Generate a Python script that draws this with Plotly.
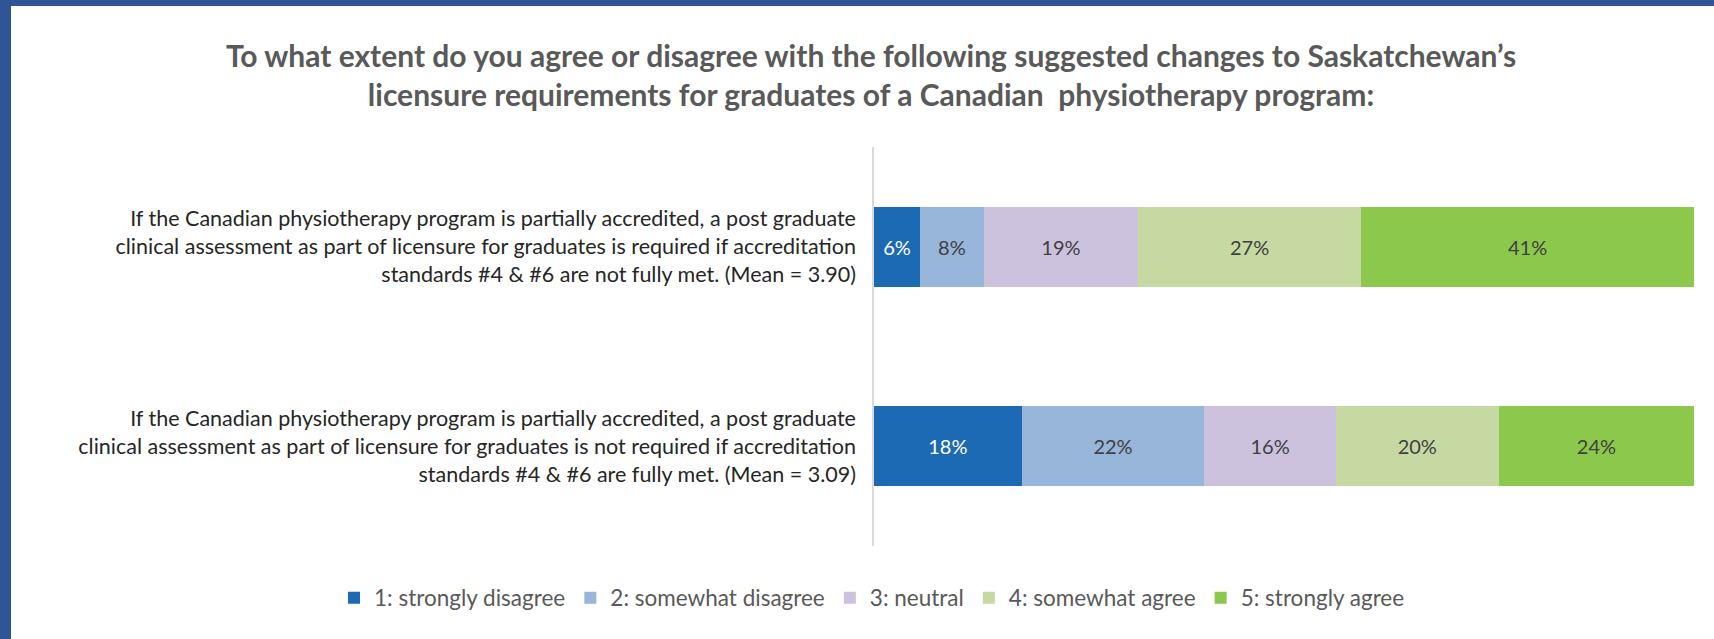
import plotly.graph_objects as go

# Survey data
statements = [
    "If the Canadian physiotherapy program is partially accredited, a post graduate<br>"
    "clinical assessment as part of licensure for graduates is required if accreditation<br>"
    "standards #4 & #6 are not fully met. (Mean = 3.90)",
    "If the Canadian physiotherapy program is partially accredited, a post graduate<br>"
    "clinical assessment as part of licensure for graduates is not required if accreditation<br>"
    "standards #4 & #6 are fully met. (Mean = 3.09)",
]
responses = [
    "1: strongly disagree",
    "2: somewhat disagree",
    "3: neutral",
    "4: somewhat agree",
    "5: strongly agree",
]
strongly_disagree = [5.6, 18.0]
somewhat_disagree = [7.8, 22.3]
neutral = [18.8, 16.0]
somewhat_agree = [27.2, 19.9]
strongly_agree = [40.6, 23.8]

series = [strongly_disagree, somewhat_disagree, neutral, somewhat_agree, strongly_agree]
COLORS = ["#1C69B4", "#98B5DA", "#CDC2DE", "#C6D9A2", "#8CC84B"]
TEXT_COLORS = ["#FFFFFF", "#404040", "#404040", "#404040", "#404040"]
GRAY_TEXT = "#595959"
BORDER_BLUE = "#2F5597"

W, H = 1714, 639
L, R, T, B = 874, 20, 147, 93

fig = go.Figure()
for name, vals, color, tcolor in zip(responses, series, COLORS, TEXT_COLORS):
    fig.add_trace(
        go.Bar(
            y=statements,
            x=vals,
            name=name,
            orientation="h",
            marker=dict(color=color, line=dict(width=0)),
            text=[f"{v:.0f}%" for v in vals],
            textposition="inside",
            insidetextanchor="middle",
            textangle=0,
            constraintext="none",
            textfont=dict(color=tcolor, size=20, family="Lato"),
            hovertemplate="%{x:.0f}%<extra>" + name + "</extra>",
        )
    )


def px_x(p):
    return (p - L) / (W - L - R)


def px_y(p):
    return (H - B - p) / (H - T - B)


fig.update_layout(
    barmode="stack",
    bargap=0.6,
    width=W,
    height=H,
    paper_bgcolor=BORDER_BLUE,
    plot_bgcolor="white",
    font=dict(family="Lato", color=GRAY_TEXT),
    margin=dict(l=L, r=R, t=T, b=B, pad=0),
    title=dict(
        text="To what extent do you agree or disagree with the following suggested changes to Saskatchewan\u2019s<br>"
        "licensure requirements for graduates of a Canadian  physiotherapy program:",
        x=871 / W,
        xanchor="center",
        y=1 - 67 / H,
        yanchor="top",
        font=dict(family="Lato", size=30, color=GRAY_TEXT, weight="bold"),
    ),
    xaxis=dict(range=[0, 100], visible=False, fixedrange=True),
    yaxis=dict(
        autorange="reversed",
        showline=True,
        linecolor="#D9D9D9",
        linewidth=1.5,
        showgrid=False,
        ticks="",
        ticklabelstandoff=12,
        tickfont=dict(family="Lato", size=21.5, color="#262626"),
        fixedrange=True,
    ),
    legend=dict(
        orientation="h",
        x=px_x(334),
        xanchor="left",
        y=px_y(598),
        yanchor="middle",
        font=dict(family="Lato", size=22.5, color=GRAY_TEXT),
        traceorder="normal",
        bgcolor="rgba(0,0,0,0)",
    ),
    shapes=[
        dict(
            type="rect",
            xref="paper",
            yref="paper",
            x0=px_x(11),
            x1=px_x(W + 10),
            y0=px_y(H + 10),
            y1=px_y(6),
            fillcolor="white",
            line=dict(width=0),
            layer="below",
        )
    ],
)

# drop the default page margin so the figure sits flush in the window
fig.write_html(
    "out.html",
    config={"displayModeBar": False},
    post_script="document.body.style.margin = '0';",
)
